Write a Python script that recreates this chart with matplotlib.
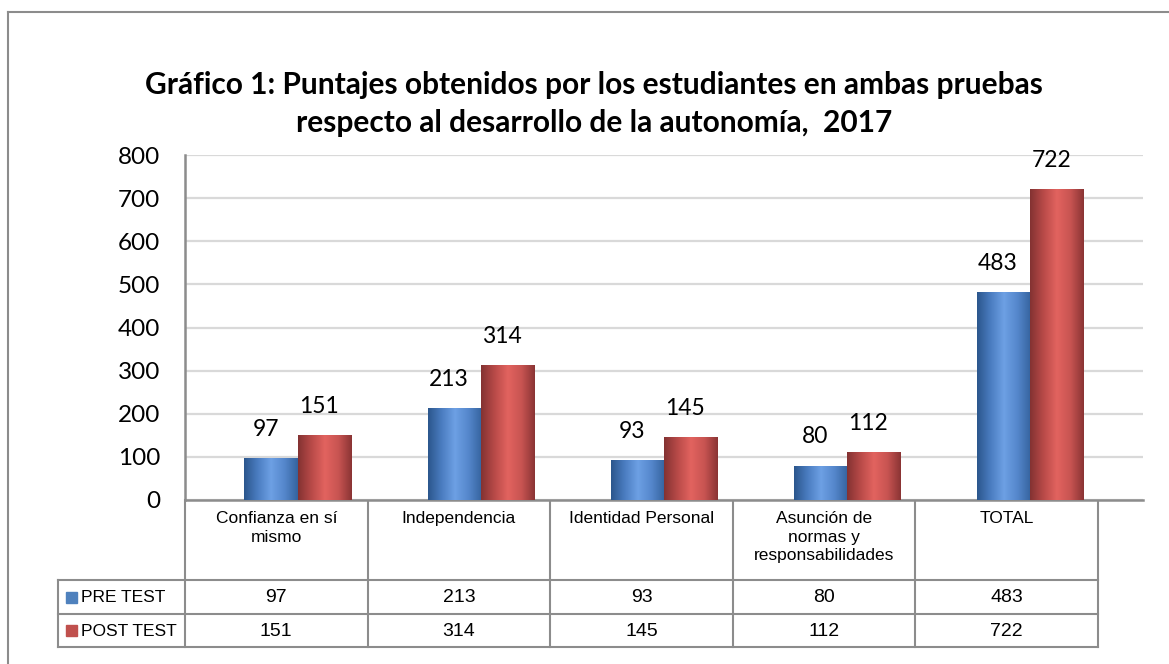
import numpy as np
import matplotlib
matplotlib.use("Agg")
from matplotlib import pyplot as plt
from matplotlib.colors import LinearSegmentedColormap
from matplotlib.lines import Line2D

# data
categories = ["Confianza en sí\nmismo", "Independencia", "Identidad Personal",
              "Asunción de\nnormas y\nresponsabilidades", "TOTAL"]
series_names = ["PRE TEST", "POST TEST"]
pre_test = [97, 213, 93, 80, 483]
post_test = [151, 314, 145, 112, 722]
y_ticks = [0, 100, 200, 300, 400, 500, 600, 700, 800]
title = ("Gráfico 1: Puntajes obtenidos por los estudiantes en ambas pruebas\n"
         "respecto al desarrollo de la autonomía,  2017")

W, H = 1169, 664
fig = plt.figure(figsize=(W / 100, H / 100), dpi=100)

title_font = ["Lato", "DejaVu Sans"]
num_font = ["Lato", "DejaVu Sans"]
tab_font = ["Liberation Sans", "DejaVu Sans"]
grey = "#8c8c8c"

# plot area in pixels
px_l, px_r, px_t, px_b = 185, 1143, 155, 500
ax = fig.add_axes([px_l / W, 1 - px_b / H, (px_r - px_l) / W, (px_b - px_t) / H])

blue_cm = LinearSegmentedColormap.from_list(
    "b", ["#2b568c", "#4a7cc0", "#6da0e4", "#5587cc", "#35639e"])
red_cm = LinearSegmentedColormap.from_list(
    "r", ["#833232", "#b84a48", "#e2635f", "#c85452", "#8a3434"])

x = np.arange(len(categories))
bw = 0.292
b1 = ax.bar(x - bw / 2, pre_test, bw, color="#4f81bd", zorder=2)
b2 = ax.bar(x + bw / 2, post_test, bw, color="#c0504d", zorder=2)

grad = np.linspace(0, 1, 256).reshape(1, -1)
for bars, cm in [(b1, blue_cm), (b2, red_cm)]:
    for b in bars:
        bx, by = b.get_x(), b.get_y()
        im = ax.imshow(grad, cmap=cm, aspect="auto", zorder=3,
                       extent=[bx, bx + b.get_width(), by, by + b.get_height()])
        im.set_clip_path(b)

# data labels
for bars, vals in [(b1, pre_test), (b2, post_test)]:
    for b, v in zip(bars, vals):
        ax.annotate(str(v), (b.get_x() + b.get_width() / 2, v),
                    xytext=(-4, 13), textcoords="offset points",
                    ha="center", va="bottom", fontsize=16.5, family=num_font)

ax.set_xlim(-0.617, len(categories) - 1 + 0.617)
ax.set_ylim(0, 800)
ax.set_yticks(y_ticks)
ax.set_yticklabels([str(t) for t in y_ticks], fontsize=17.5, family=num_font)
ax.tick_params(axis="y", length=0, pad=18)
ax.set_xticks([])
ax.grid(axis="y", color="#d9d9d9", lw=1.6, zorder=0)
ax.set_axisbelow(True)
for s in ["top", "right"]:
    ax.spines[s].set_visible(False)
ax.spines["left"].set_color(grey)
ax.spines["left"].set_linewidth(1.8)
ax.spines["bottom"].set_color(grey)
ax.spines["bottom"].set_linewidth(1.8)

# overlay in pixel coordinates for border, title and data table
ov = fig.add_axes([0, 0, 1, 1], zorder=-1)
ov.set_xlim(0, W)
ov.set_ylim(H, 0)
ov.axis("off")
ov.patch.set_alpha(0)

def hline(y, x0, x1):
    ov.add_line(Line2D([x0, x1], [y, y], color=grey, lw=1.5))

def vline(xx, y0, y1):
    ov.add_line(Line2D([xx, xx], [y0, y1], color=grey, lw=1.5))

# outer frame
hline(12, 8, W)
vline(8, 12, H)

ov.text(594, 104, title, ha="center", va="center", fontsize=21.5,
        fontweight="bold", family=title_font, linespacing=1.45)

# table
col_l, col_w = 185, 182.6
leg_l = 58
row_cat, row1, row2, row3 = 500, 580, 614, 647
n = len(categories)
tab_r = col_l + n * col_w
for k in range(n + 1):
    vline(col_l + k * col_w, row_cat, row3)
vline(leg_l, row1, row3)
for yy in [row1, row2, row3]:
    hline(yy, leg_l, tab_r)

fs_tab = 12.5
fs_num = 14
for k, c in enumerate(categories):
    cx = col_l + (k + 0.5) * col_w
    ov.text(cx, row_cat + 11, c, ha="center", va="top", fontsize=fs_tab,
            family=tab_font, linespacing=1.3)
    ov.text(cx, (row1 + row2) / 2 + 1, str(pre_test[k]), ha="center",
            va="center", fontsize=fs_num, family=tab_font)
    ov.text(cx, (row2 + row3) / 2 + 1, str(post_test[k]), ha="center",
            va="center", fontsize=fs_num, family=tab_font)

for (y0, y1), name, col in [((row1, row2), series_names[0], "#4f81bd"),
                            ((row2, row3), series_names[1], "#c0504d")]:
    cy = (y0 + y1) / 2
    ov.add_patch(plt.Rectangle((66, cy - 5.5), 11, 11, color=col))
    ov.text(81, cy + 1, name, ha="left", va="center", fontsize=fs_tab,
            family=tab_font)

fig.savefig("out.png", dpi=100)
